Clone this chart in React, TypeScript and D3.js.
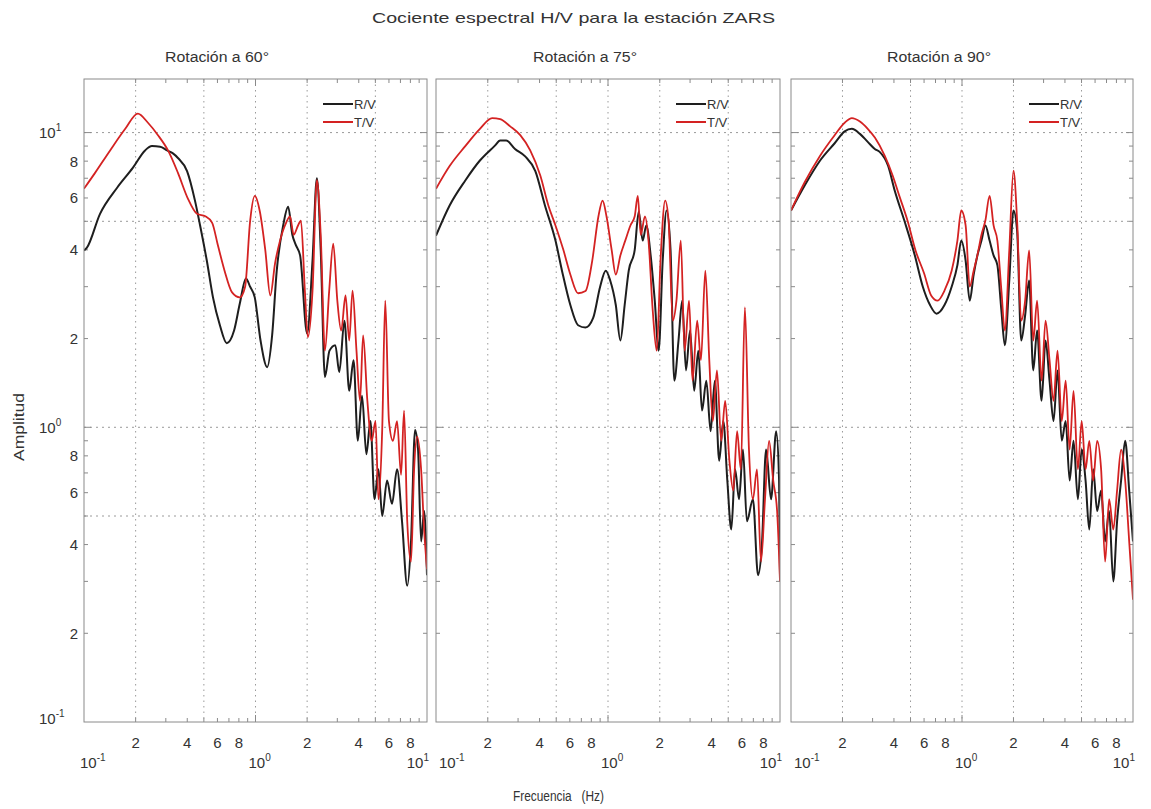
import React from 'react';
import * as d3 from 'd3';

// ---------- data (frequency Hz, amplitude) ----------
const panelTitles = ['Rotación a 60°', 'Rotación a 75°', 'Rotación a 90°'];
const seriesNames = ['R/V', 'T/V'];

const rv60: [number, number][] = [
  [0.1, 3.98], [0.104, 4.07], [0.124, 5.3], [0.156, 6.5], [0.193, 7.6], [0.227, 8.7], [0.249, 9.0], [0.278, 8.96],
  [0.305, 8.7], [0.33, 8.5], [0.353, 8.2], [0.399, 7.4], [0.443, 5.9], [0.475, 4.85], [0.52, 3.68], [0.565, 2.76],
  [0.62, 2.22], [0.68, 1.93], [0.75, 2.13], [0.81, 2.63], [0.88, 3.2], [0.93, 3.0], [0.99, 2.76], [1.07, 1.97],
  [1.17, 1.6], [1.25, 2.05], [1.33, 3.4], [1.45, 4.84], [1.55, 5.6], [1.64, 4.5], [1.72, 4.15], [1.82, 3.83],
  [2.0, 2.08], [2.15, 3.68], [2.28, 7.0], [2.4, 4.0], [2.54, 1.48], [2.7, 1.82], [2.92, 1.9], [3.08, 1.54],
  [3.3, 2.3], [3.52, 1.33], [3.73, 1.69], [3.95, 0.9], [4.18, 1.28], [4.43, 0.81], [4.68, 1.05], [4.94, 0.57],
  [5.21, 0.72], [5.48, 0.5], [5.85, 0.66], [6.25, 0.55], [6.69, 0.72], [7.15, 0.48], [7.67, 0.29], [8.07, 0.41],
  [8.52, 0.98], [8.87, 0.84], [9.24, 0.41], [9.62, 0.52], [10, 0.315],
];
const tv60: [number, number][] = [
  [0.1, 6.45], [0.116, 7.3], [0.142, 8.7], [0.174, 10.3], [0.206, 11.6], [0.236, 10.8], [0.27, 9.8], [0.309, 8.7],
  [0.353, 7.3], [0.404, 5.96], [0.456, 5.3], [0.51, 5.2], [0.558, 4.95], [0.604, 4.14], [0.66, 3.4], [0.73, 2.87],
  [0.81, 2.76], [0.87, 3.0], [0.93, 5.0], [0.99, 6.1], [1.06, 5.4], [1.14, 4.0], [1.22, 2.8], [1.3, 3.6],
  [1.39, 4.3], [1.51, 4.95], [1.59, 5.2], [1.67, 4.5], [1.77, 4.84], [1.84, 5.03], [1.94, 2.91], [2.02, 2.02],
  [2.15, 2.9], [2.28, 6.9], [2.4, 4.5], [2.54, 1.82], [2.69, 2.91], [2.84, 4.2], [3.0, 2.69], [3.16, 2.13],
  [3.35, 2.8], [3.52, 1.97], [3.68, 2.91], [3.88, 1.82], [4.07, 1.23], [4.24, 2.05], [4.49, 1.23], [4.76, 0.9],
  [5.01, 1.05], [5.21, 0.57], [5.48, 0.98], [5.71, 2.69], [6.0, 1.05], [6.33, 0.9], [6.69, 1.05], [7.06, 0.69],
  [7.35, 1.14], [7.67, 0.48], [8.07, 0.35], [8.41, 0.72], [8.76, 0.93], [9.24, 0.72], [9.62, 0.45], [10, 0.33],
];
const rv75: [number, number][] = [
  [0.1, 4.47], [0.12, 5.66], [0.148, 6.88], [0.18, 8.04], [0.22, 9.03], [0.236, 9.4], [0.256, 9.4], [0.288, 8.8],
  [0.33, 8.3], [0.378, 7.4], [0.43, 5.66], [0.495, 4.3], [0.54, 3.4], [0.604, 2.6], [0.67, 2.22], [0.74, 2.18],
  [0.82, 2.35], [0.9, 3.0], [0.97, 3.4], [1.03, 3.15], [1.11, 2.6], [1.18, 1.97], [1.25, 2.6], [1.32, 3.4],
  [1.43, 4.0], [1.51, 5.4], [1.59, 4.3], [1.67, 4.84], [1.77, 3.83], [1.87, 2.69], [1.97, 1.82], [2.08, 3.68],
  [2.19, 5.44], [2.31, 4.0], [2.43, 1.44], [2.57, 1.97], [2.7, 2.69], [2.84, 1.56], [3.0, 2.13], [3.17, 1.33],
  [3.35, 1.82], [3.52, 1.14], [3.73, 1.44], [3.95, 0.97], [4.18, 1.44], [4.43, 0.77], [4.68, 1.05], [4.94, 0.66],
  [5.21, 0.45], [5.48, 0.72], [5.78, 0.57], [6.09, 0.84], [6.42, 0.48], [6.96, 0.57], [7.45, 0.315], [7.85, 0.4],
  [8.3, 0.84], [8.87, 0.57], [9.5, 0.97], [9.88, 0.66], [10, 0.315],
];
const tv75: [number, number][] = [
  [0.1, 6.45], [0.12, 7.7], [0.148, 9.0], [0.18, 10.3], [0.212, 11.2], [0.236, 11.1], [0.27, 10.5], [0.309, 9.8],
  [0.353, 8.7], [0.404, 7.15], [0.45, 5.66], [0.495, 4.84], [0.55, 4.0], [0.604, 3.3], [0.67, 2.85], [0.74, 2.9],
  [0.81, 3.68], [0.88, 5.2], [0.93, 5.88], [0.98, 5.2], [1.05, 4.0], [1.11, 3.3], [1.18, 3.83], [1.26, 4.3],
  [1.35, 4.84], [1.43, 5.2], [1.49, 6.1], [1.55, 4.5], [1.64, 5.2], [1.72, 4.3], [1.82, 2.49], [1.92, 1.82],
  [2.02, 3.68], [2.15, 5.88], [2.25, 5.03], [2.38, 2.3], [2.5, 2.69], [2.65, 4.3], [2.79, 1.82], [2.96, 2.69],
  [3.1, 1.44], [3.3, 2.3], [3.47, 1.69], [3.68, 3.4], [3.88, 1.69], [4.07, 1.05], [4.3, 1.56], [4.55, 0.9],
  [4.8, 1.23], [5.08, 0.77], [5.35, 0.61], [5.63, 0.97], [5.92, 0.72], [6.25, 2.55], [6.6, 0.84], [6.96, 0.57],
  [7.35, 0.72], [7.75, 0.35], [8.18, 0.57], [8.64, 0.9], [9.13, 0.66], [9.62, 0.52], [10, 0.3],
];
const rv90: [number, number][] = [
  [0.1, 5.44], [0.12, 6.6], [0.148, 8.04], [0.18, 9.2], [0.206, 10.1], [0.227, 10.3], [0.253, 9.9], [0.281, 9.3],
  [0.309, 8.8], [0.33, 8.6], [0.37, 7.7], [0.404, 6.36], [0.46, 5.03], [0.53, 3.83], [0.59, 3.0], [0.65, 2.6],
  [0.71, 2.43], [0.79, 2.6], [0.87, 3.0], [0.94, 3.55], [0.99, 4.3], [1.05, 3.68], [1.11, 2.69], [1.17, 3.3],
  [1.23, 3.83], [1.3, 4.3], [1.37, 4.84], [1.45, 4.3], [1.53, 3.83], [1.61, 3.55], [1.7, 2.49], [1.78, 1.9],
  [1.89, 3.15], [2.0, 5.44], [2.1, 4.65], [2.22, 1.97], [2.34, 2.4], [2.47, 3.15], [2.61, 1.56], [2.75, 2.13],
  [2.92, 1.23], [3.08, 1.97], [3.25, 1.44], [3.43, 1.05], [3.62, 1.56], [3.83, 0.9], [4.04, 1.05], [4.26, 0.66],
  [4.49, 0.9], [4.76, 0.57], [5.01, 0.84], [5.28, 0.66], [5.55, 0.45], [5.85, 0.72], [6.17, 0.52], [6.51, 0.61],
  [6.87, 0.41], [7.25, 0.52], [7.67, 0.3], [8.07, 0.48], [8.52, 0.66], [9.0, 0.9], [9.5, 0.61], [10, 0.41],
];
const tv90: [number, number][] = [
  [0.1, 5.44], [0.12, 6.77], [0.148, 8.35], [0.18, 9.8], [0.206, 10.8], [0.227, 11.2], [0.253, 10.9], [0.281, 10.3],
  [0.31, 9.6], [0.353, 8.35], [0.393, 7.15], [0.43, 6.1], [0.48, 5.03], [0.535, 3.98], [0.6, 3.33], [0.66, 2.8],
  [0.72, 2.69], [0.79, 2.91], [0.87, 3.4], [0.94, 4.3], [0.99, 5.44], [1.05, 4.84], [1.11, 3.0], [1.17, 3.4],
  [1.23, 3.83], [1.3, 4.5], [1.37, 5.03], [1.45, 6.1], [1.53, 4.84], [1.61, 4.3], [1.7, 2.91], [1.78, 2.13],
  [1.89, 3.98], [2.0, 7.43], [2.1, 5.03], [2.22, 2.3], [2.34, 2.69], [2.47, 3.98], [2.61, 1.97], [2.75, 2.69],
  [2.92, 1.44], [3.08, 2.3], [3.25, 1.69], [3.43, 1.23], [3.62, 1.82], [3.83, 1.05], [4.04, 1.44], [4.26, 0.84],
  [4.49, 1.33], [4.76, 0.72], [5.01, 1.05], [5.28, 0.72], [5.55, 0.9], [5.85, 0.66], [6.17, 0.9], [6.51, 0.72],
  [6.87, 0.35], [7.25, 0.57], [7.67, 0.45], [8.07, 0.61], [8.52, 0.84], [9.0, 0.66], [9.5, 0.41], [10, 0.26],
];

const panelData = [
  { rv: rv60, tv: tv60 },
  { rv: rv75, tv: tv75 },
  { rv: rv90, tv: tv90 },
];

const xDecades = [0.1, 1, 10];
const xDecadeExp = ['-1', '0', '1'];
const xLabelMantissas = [2, 4, 6, 8];
const yDecades = [10, 1, 0.1];
const yDecadeExp = ['1', '0', '-1'];
const yLabelValues = [8, 6, 4, 2, 0.8, 0.6, 0.4, 0.2];
const yLabelText = ['8', '6', '4', '2', '8', '6', '4', '2'];
const xGrid = [0.2, 0.5, 1, 2, 5];
const yGrid = [10, 5, 1, 0.5];

// ---------- layout ----------
const W = 1151;
const H = 809;
const FONT = "'Liberation Sans', Arial, Helvetica, sans-serif";
const panels = [
  { x0: 84, x1: 427, tx: 217 },
  { x0: 436, x1: 780, tx: 585 },
  { x0: 791, x1: 1133, tx: 939 },
];
const yTop = 79;
const yBot = 722;
const yScale = d3.scaleLog().domain([0.1, 15.2]).range([yBot, yTop]);

const minorVals: number[] = [];
[0.1, 1].forEach((d) => { for (let m = 2; m <= 9; m++) minorVals.push(d * m); });
const yMinorVals: number[] = [];
[0.1, 1, 10].forEach((d) => { for (let m = 2; m <= 9; m++) if (d * m <= 15) yMinorVals.push(d * m); });

const TEXT = '#333';
const AXIS = '#8a8a8a';
const GRID = '#9a9a9a';
const BLACK = '#1e1e1e';
const RED = '#d42222';

function Panel({ idx }: { idx: number }) {
  const { x0, x1, tx } = panels[idx];
  const x = d3.scaleLog().domain([0.1, 10]).range([x0, x1]);
  const line = d3
    .line<[number, number]>()
    .x((d) => x(d[0]))
    .y((d) => yScale(d[1]))
    .curve(d3.curveMonotoneX);
  const data = panelData[idx];
  const clipId = `clip${idx}`;
  const lx = x1 - 104;
  return (
    <g>
      <defs>
        <clipPath id={clipId}>
          <rect x={x0} y={yTop} width={x1 - x0} height={yBot - yTop} />
        </clipPath>
      </defs>
      <rect x={x0} y={yTop} width={x1 - x0} height={yBot - yTop} fill="#fff" />
      {/* grid */}
      {xGrid.map((g) => (
        <line key={'gx' + g} x1={x(g)} x2={x(g)} y1={yTop} y2={yBot} stroke={GRID} strokeWidth={1} strokeDasharray="1.5,4" />
      ))}
      {yGrid.map((g) => (
        <line key={'gy' + g} x1={x0} x2={x1} y1={yScale(g)} y2={yScale(g)} stroke={GRID} strokeWidth={1} strokeDasharray="2,4" />
      ))}
      {/* minor ticks */}
      {minorVals.map((v) => (
        <g key={'mx' + v}>
          <line x1={x(v)} x2={x(v)} y1={yBot} y2={yBot - 4} stroke={AXIS} />
          <line x1={x(v)} x2={x(v)} y1={yTop} y2={yTop + 4} stroke={AXIS} />
        </g>
      ))}
      {[1].map((v) => (
        <g key={'Mx' + v}>
          <line x1={x(v)} x2={x(v)} y1={yBot} y2={yBot - 7} stroke={AXIS} />
          <line x1={x(v)} x2={x(v)} y1={yTop} y2={yTop + 7} stroke={AXIS} />
        </g>
      ))}
      {yMinorVals.map((v) => (
        <g key={'my' + v}>
          <line x1={x0} x2={x0 + 4} y1={yScale(v)} y2={yScale(v)} stroke={AXIS} />
          <line x1={x1} x2={x1 - 4} y1={yScale(v)} y2={yScale(v)} stroke={AXIS} />
        </g>
      ))}
      {[1, 10].map((v) => (
        <g key={'My' + v}>
          <line x1={x0} x2={x0 + 7} y1={yScale(v)} y2={yScale(v)} stroke={AXIS} />
          <line x1={x1} x2={x1 - 7} y1={yScale(v)} y2={yScale(v)} stroke={AXIS} />
        </g>
      ))}
      {/* curves */}
      <g clipPath={`url(#${clipId})`}>
        <path d={line(data.rv) || ''} fill="none" stroke={BLACK} strokeWidth={2} strokeLinejoin="round" />
        <path d={line(data.tv) || ''} fill="none" stroke={RED} strokeWidth={1.8} strokeLinejoin="round" />
      </g>
      {/* frame */}
      <rect x={x0} y={yTop} width={x1 - x0} height={yBot - yTop} fill="none" stroke={AXIS} strokeWidth={1} />
      {/* legend */}
      <line x1={lx} x2={lx + 30} y1={104} y2={104} stroke={BLACK} strokeWidth={2} />
      <line x1={lx} x2={lx + 30} y1={122} y2={122} stroke={RED} strokeWidth={2} />
      <text x={lx + 31} y={109} fontSize={13} fill={TEXT} fontFamily={FONT}>{seriesNames[0]}</text>
      <text x={lx + 31} y={127} fontSize={13} fill={TEXT} fontFamily={FONT}>{seriesNames[1]}</text>
      {/* title */}
      <text x={tx} y={62} textAnchor="middle" fontSize={14} fill={TEXT} fontFamily={FONT}
        textLength={104} lengthAdjust="spacingAndGlyphs">{panelTitles[idx]}</text>
      {/* x tick labels */}
      {[0.1, 1].flatMap((d) =>
        xLabelMantissas.map((m) => (
          <text key={'xl' + d + m} x={x(d * m)} y={748} textAnchor="middle" fontSize={15} fill={TEXT} fontFamily={FONT}>{m}</text>
        ))
      )}
      {xDecades.map((d, i) => {
        const anchor = i === 2 ? 'end' : 'start';
        const xx = i === 0 ? x(d) + (idx === 0 ? -4 : 3) : i === 1 ? x(d) - 7 : x(d) + 2;
        return (
          <text key={'xd' + d} x={xx} y={768} textAnchor={anchor} fontSize={15} fill={TEXT} fontFamily={FONT}>
            10<tspan dy={-7} fontSize={10}>{xDecadeExp[i]}</tspan>
          </text>
        );
      })}
      {/* y tick labels only on first panel */}
      {idx === 0 &&
        yLabelValues.map((v, i) => (
          <text key={'yl' + v} x={x0 - 6} y={yScale(v) + 5.5} textAnchor="end" fontSize={15} fill={TEXT} fontFamily={FONT}>{yLabelText[i]}</text>
        ))}
      {idx === 0 &&
        yDecades.map((v, i) => (
          <text key={'yd' + v} x={39} y={yScale(v) + 5.5 - (i === 2 ? 4 : 0)} fontSize={15} fill={TEXT} fontFamily={FONT}>
            10<tspan dy={-7} fontSize={10}>{yDecadeExp[i]}</tspan>
          </text>
        ))}
    </g>
  );
}

export default function App() {
  return (
    <svg width={W} height={H} style={{ position: 'absolute', left: 0, top: 0, background: '#fff' }}>
      <rect x={0} y={0} width={W} height={H} fill="#fff" />
      <text x={372} y={23} fontSize={15} fill={TEXT} fontFamily={FONT}
        textLength={403} lengthAdjust="spacingAndGlyphs">
        Cociente espectral H/V para la estación ZARS
      </text>
      {panels.map((_, i) => (
        <Panel key={i} idx={i} />
      ))}
      <text transform="translate(24,427) rotate(-90)" textAnchor="middle" fontSize={15} fill={TEXT} fontFamily={FONT}
        textLength={68} lengthAdjust="spacingAndGlyphs">Amplitud</text>
      <text x={513} y={801} fontSize={14} fill={TEXT} fontFamily={FONT} xmlSpace="preserve"
        style={{ whiteSpace: 'pre' }} textLength={91} lengthAdjust="spacingAndGlyphs">{'Frecuencia   (Hz)'}</text>
    </svg>
  );
}
